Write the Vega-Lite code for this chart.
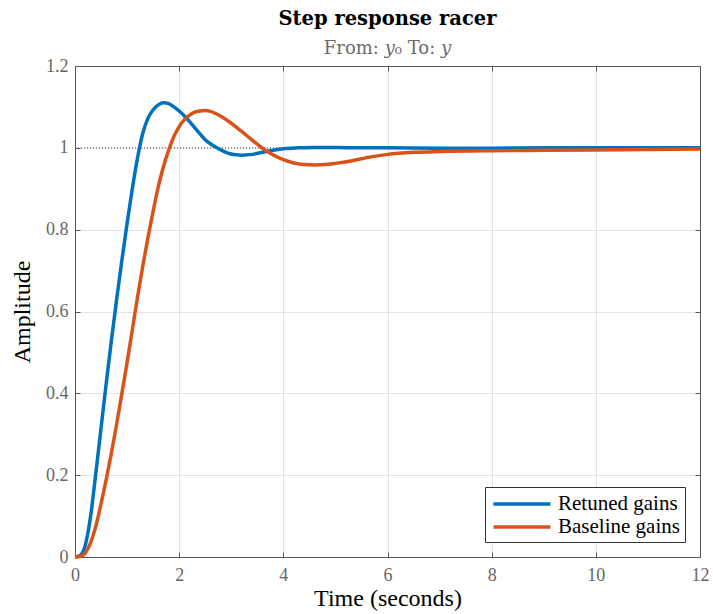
{
  "$schema": "https://vega.github.io/schema/vega-lite/v6.json",
  "autosize": {"type": "none"},
  "width": 625,
  "height": 491,
  "padding": {"left": 75, "top": 66, "right": 13, "bottom": 57},
  "background": "white",
  "title": {
    "text": "Step response racer",
    "subtitle": "From: 𝑦₀ To: 𝑦",
    "font": "DejaVu Serif",
    "fontSize": 19.5,
    "fontWeight": "bold",
    "color": "#000000",
    "subtitleFont": "DejaVu Serif",
    "subtitleFontSize": 18,
    "subtitleColor": "#6b6b6b",
    "subtitlePadding": 11,
    "anchor": "middle",
    "offset": 6,
    "dy": 8
  },
  "config": {
    "view": {"stroke": "#555555", "strokeWidth": 1},
    "axis": {
      "labelFont": "Liberation Serif",
      "labelFontSize": 18,
      "labelColor": "#666666",
      "labelFlush": false,
      "titleFont": "Liberation Serif",
      "titleFontSize": 24,
      "titleFontWeight": "normal",
      "titleColor": "#000000",
      "domainColor": "#555555",
      "tickColor": "#555555",
      "gridColor": "#e3e3e3",
      "gridWidth": 1
    },
    "legend": {
      "orient": "bottom-right",
      "offset": 15,
      "strokeColor": "#333333",
      "fillColor": "white",
      "padding": 5,
      "labelFont": "Liberation Serif",
      "labelFontSize": 21,
      "labelColor": "#000000",
      "labelOffset": 24,
      "symbolType": "M-2.85,0H2.85",
      "symbolStrokeWidth": 3.5,
      "symbolSize": 400,
      "symbolOffset": 20,
      "rowPadding": 1,
      "title": null
    }
  },
  "datasets": {
    "retuned": [
      {"t": 0.0, "y": 0.000}, {"t": 0.1, "y": 0.004}, {"t": 0.2, "y": 0.030},
      {"t": 0.3, "y": 0.100}, {"t": 0.4, "y": 0.205}, {"t": 0.5, "y": 0.315},
      {"t": 0.6, "y": 0.425}, {"t": 0.7, "y": 0.530}, {"t": 0.8, "y": 0.630},
      {"t": 0.9, "y": 0.725}, {"t": 1.0, "y": 0.815}, {"t": 1.1, "y": 0.900},
      {"t": 1.2, "y": 0.975}, {"t": 1.3, "y": 1.035}, {"t": 1.4, "y": 1.072},
      {"t": 1.5, "y": 1.093}, {"t": 1.6, "y": 1.105}, {"t": 1.7, "y": 1.110},
      {"t": 1.8, "y": 1.108}, {"t": 1.9, "y": 1.100}, {"t": 2.0, "y": 1.090},
      {"t": 2.1, "y": 1.078}, {"t": 2.2, "y": 1.064}, {"t": 2.3, "y": 1.049},
      {"t": 2.4, "y": 1.034}, {"t": 2.5, "y": 1.020}, {"t": 2.6, "y": 1.010},
      {"t": 2.7, "y": 1.002}, {"t": 2.8, "y": 0.995}, {"t": 2.9, "y": 0.989},
      {"t": 3.0, "y": 0.985}, {"t": 3.1, "y": 0.983}, {"t": 3.2, "y": 0.982},
      {"t": 3.4, "y": 0.984}, {"t": 3.6, "y": 0.989}, {"t": 3.8, "y": 0.994},
      {"t": 4.0, "y": 0.998}, {"t": 4.3, "y": 1.000}, {"t": 4.6, "y": 1.001},
      {"t": 5.0, "y": 1.001}, {"t": 5.5, "y": 1.000}, {"t": 6.0, "y": 1.000},
      {"t": 7.0, "y": 0.999}, {"t": 8.0, "y": 0.999}, {"t": 9.0, "y": 1.000},
      {"t": 10.0, "y": 1.000}, {"t": 11.0, "y": 1.000}, {"t": 12.0, "y": 1.000}
    ],
    "baseline": [
      {"t": 0.0, "y": 0.000}, {"t": 0.1, "y": 0.001}, {"t": 0.2, "y": 0.010},
      {"t": 0.3, "y": 0.035}, {"t": 0.4, "y": 0.075}, {"t": 0.5, "y": 0.130},
      {"t": 0.6, "y": 0.190}, {"t": 0.7, "y": 0.255}, {"t": 0.8, "y": 0.325},
      {"t": 0.9, "y": 0.400}, {"t": 1.0, "y": 0.475}, {"t": 1.1, "y": 0.555},
      {"t": 1.2, "y": 0.635}, {"t": 1.3, "y": 0.710}, {"t": 1.4, "y": 0.780},
      {"t": 1.5, "y": 0.845}, {"t": 1.6, "y": 0.905}, {"t": 1.7, "y": 0.955},
      {"t": 1.8, "y": 0.995}, {"t": 1.9, "y": 1.028}, {"t": 2.0, "y": 1.052},
      {"t": 2.1, "y": 1.069}, {"t": 2.2, "y": 1.080}, {"t": 2.3, "y": 1.087},
      {"t": 2.4, "y": 1.090}, {"t": 2.5, "y": 1.091}, {"t": 2.6, "y": 1.089},
      {"t": 2.8, "y": 1.077}, {"t": 3.0, "y": 1.060}, {"t": 3.2, "y": 1.040},
      {"t": 3.4, "y": 1.019}, {"t": 3.6, "y": 0.999}, {"t": 3.8, "y": 0.983},
      {"t": 4.0, "y": 0.971}, {"t": 4.2, "y": 0.963}, {"t": 4.4, "y": 0.959},
      {"t": 4.6, "y": 0.958}, {"t": 4.8, "y": 0.959}, {"t": 5.0, "y": 0.962},
      {"t": 5.3, "y": 0.968}, {"t": 5.6, "y": 0.976}, {"t": 6.0, "y": 0.984},
      {"t": 6.5, "y": 0.989}, {"t": 7.0, "y": 0.991}, {"t": 8.0, "y": 0.993},
      {"t": 9.0, "y": 0.994}, {"t": 10.0, "y": 0.995}, {"t": 11.0, "y": 0.996},
      {"t": 12.0, "y": 0.997}
    ],
    "reference": [{"t0": 0, "t1": 12, "level": 1}]
  },
  "resolve": {"axis": {"x": "independent", "y": "independent"}},
  "layer": [
    {
      "data": {"name": "reference"},
      "mark": {"type": "rule", "color": "#444444", "strokeWidth": 1, "strokeDash": [1, 2]},
      "encoding": {
        "x": {"field": "t0", "type": "quantitative", "scale": {"domain": [0, 12], "nice": false},
          "axis": {"orient": "top", "labels": false, "title": null, "grid": false, "tickSize": -5, "values": [0, 2, 4, 6, 8, 10, 12]}},
        "x2": {"field": "t1"},
        "y": {"field": "level", "type": "quantitative", "scale": {"domain": [0, 1.2], "nice": false},
          "axis": {"orient": "right", "labels": false, "title": null, "grid": false, "tickSize": -5, "values": [0, 0.2, 0.4, 0.6, 0.8, 1, 1.2]}}
      }
    },
    {
      "data": {"name": "retuned"},
      "transform": [{"calculate": "'Retuned gains'", "as": "series"}],
      "mark": {"type": "line", "strokeWidth": 3.5, "interpolate": "monotone"},
      "encoding": {
        "x": {"field": "t", "type": "quantitative", "scale": {"domain": [0, 12], "nice": false},
          "axis": {"orient": "bottom", "title": "Time (seconds)", "values": [0, 2, 4, 6, 8, 10, 12], "format": "~g",
            "labelFont": "Liberation Serif", "labelFontSize": 18, "labelFlush": false, "tickSize": -5, "labelPadding": 14, "titlePadding": 2, "grid": true}},
        "y": {"field": "y", "type": "quantitative", "scale": {"domain": [0, 1.2], "nice": false},
          "axis": {"orient": "left", "title": "Amplitude", "values": [0, 0.2, 0.4, 0.6, 0.8, 1, 1.2], "format": "~g",
            "labelFont": "Liberation Serif", "labelFontSize": 18, "labelFlush": false, "tickSize": -5, "labelPadding": 12, "titlePadding": 11, "grid": true}},
        "color": {"field": "series", "type": "nominal",
          "scale": {"domain": ["Retuned gains", "Baseline gains"], "range": ["#0072BD", "#D95319"]}}
      }
    },
    {
      "data": {"name": "baseline"},
      "transform": [{"calculate": "'Baseline gains'", "as": "series"}],
      "mark": {"type": "line", "strokeWidth": 3.5, "interpolate": "monotone"},
      "encoding": {
        "x": {"field": "t", "type": "quantitative", "axis": null},
        "y": {"field": "y", "type": "quantitative", "axis": null},
        "color": {"field": "series", "type": "nominal"}
      }
    }
  ]
}
